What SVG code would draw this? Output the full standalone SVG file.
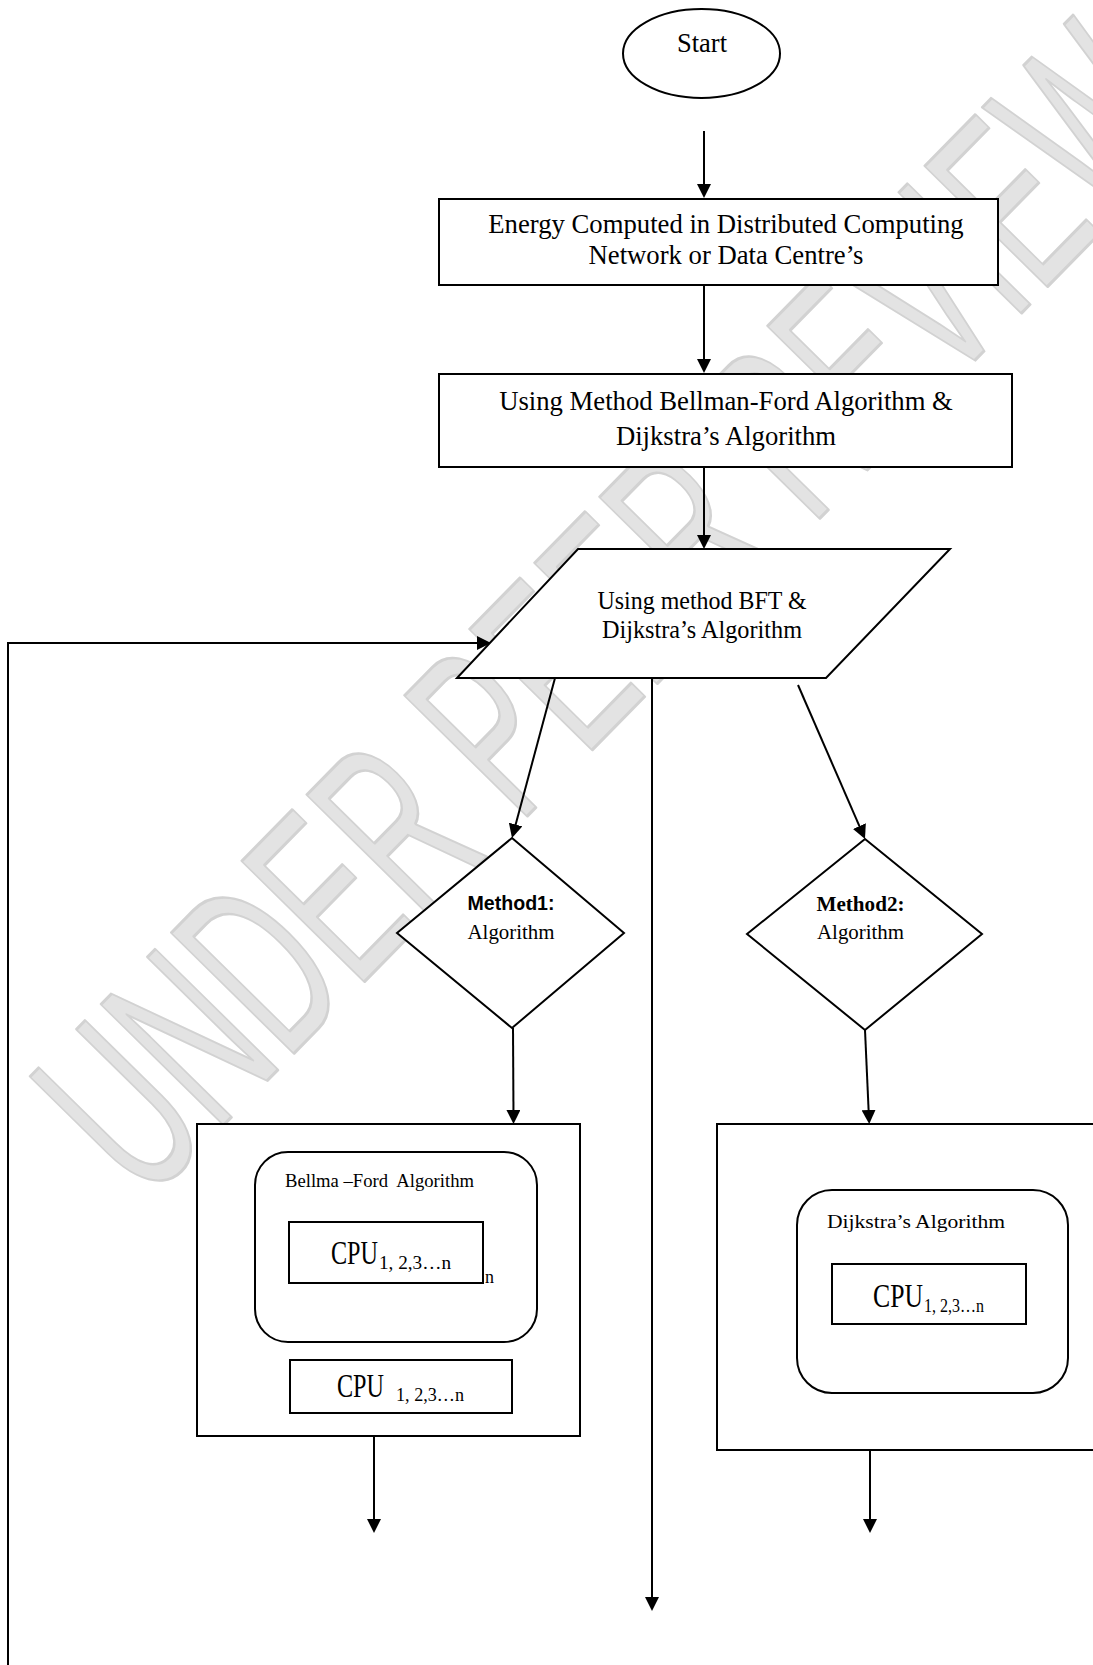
<svg xmlns="http://www.w3.org/2000/svg" width="1093" height="1665" viewBox="0 0 1093 1665">
<style>
.s{fill:#fff;stroke:#000;stroke-width:2}
.t{font-family:"Liberation Serif","Times New Roman",serif;fill:#000}
.c{fill:none;stroke:#000;stroke-width:2}
.wm{font-family:"Liberation Sans",Arial,sans-serif;fill:#e3e3e3;stroke:#d2d2d2;stroke-width:3;stroke-linejoin:round}
</style>
<defs>
<marker id="ah" viewBox="0 0 14 14" refX="9" refY="7" markerWidth="14" markerHeight="14" markerUnits="userSpaceOnUse" orient="auto">
<path d="M0,0 L14,7 L0,14 z" fill="#000"/>
</marker>
</defs>
<rect width="1093" height="1665" fill="#fff"/>
<g id="watermark">
<text class="wm" transform="translate(145,1205) rotate(-45.5)" font-size="250" textLength="1500" lengthAdjust="spacingAndGlyphs">UNDER PEER REVIEW</text>
</g>
<g id="connectors">
<line class="c" x1="704" y1="131" x2="704" y2="193" marker-end="url(#ah)"/>
<line class="c" x1="704" y1="285" x2="704" y2="368" marker-end="url(#ah)"/>
<line class="c" x1="704" y1="467" x2="704" y2="544" marker-end="url(#ah)"/>
<polyline class="c" points="8,1665 8,643 486,643" marker-end="url(#ah)"/>
<line class="c" x1="555" y1="678" x2="513.3" y2="833.2" marker-end="url(#ah)"/>
<line class="c" x1="652" y1="678" x2="652" y2="1606" marker-end="url(#ah)"/>
<line class="c" x1="798" y1="685" x2="863" y2="834.4" marker-end="url(#ah)"/>
<line class="c" x1="513" y1="1028" x2="513.5" y2="1119" marker-end="url(#ah)"/>
<line class="c" x1="865" y1="1030" x2="869" y2="1119" marker-end="url(#ah)"/>
<line class="c" x1="374" y1="1436" x2="374" y2="1528" marker-end="url(#ah)"/>
<line class="c" x1="870" y1="1450" x2="870" y2="1528" marker-end="url(#ah)"/>
</g>
<g id="start">
<ellipse class="s" cx="701.5" cy="53.5" rx="78.5" ry="44.5"/>
<text class="t" x="702" y="52" font-size="26.5" text-anchor="middle">Start</text>
</g>
<g id="energy">
<rect class="s" x="439" y="199" width="559" height="86"/>
<text class="t" x="726" y="233" font-size="26.7" text-anchor="middle">Energy Computed in Distributed Computing</text>
<text class="t" x="726" y="264" font-size="26.7" text-anchor="middle">Network or Data Centre’s</text>
</g>
<g id="method">
<rect class="s" x="439" y="374" width="573" height="93"/>
<text class="t" x="726" y="410" font-size="26.7" text-anchor="middle">Using Method Bellman-Ford Algorithm &amp;</text>
<text class="t" x="726" y="445" font-size="26.7" text-anchor="middle">Dijkstra’s Algorithm</text>
</g>
<g id="bft">
<polygon class="s" points="578,549 950,549 826,678 457,678"/>
<text class="t" x="702" y="609" font-size="25" text-anchor="middle" textLength="209" lengthAdjust="spacingAndGlyphs">Using method BFT &amp;</text>
<text class="t" x="702" y="638" font-size="25" text-anchor="middle" textLength="200" lengthAdjust="spacingAndGlyphs">Dijkstra’s Algorithm</text>
</g>
<g id="method1">
<polygon class="s" points="512,838 624,933 512,1028 397,933"/>
<text x="511" y="910" font-family="Liberation Sans,Arial,sans-serif" font-weight="bold" font-size="19.5" text-anchor="middle" textLength="87" lengthAdjust="spacingAndGlyphs">Method1:</text>
<text class="t" x="511" y="939" font-size="20" text-anchor="middle" textLength="87" lengthAdjust="spacingAndGlyphs">Algorithm</text>
</g>
<g id="method2">
<polygon class="s" points="865,839 982,934 865,1030 747,934"/>
<text class="t" x="860.5" y="911" font-weight="bold" font-size="21" text-anchor="middle" textLength="88" lengthAdjust="spacingAndGlyphs">Method2:</text>
<text class="t" x="860.5" y="939" font-size="20" text-anchor="middle" textLength="87" lengthAdjust="spacingAndGlyphs">Algorithm</text>
</g>
<g id="bellman">
<rect class="s" x="197" y="1124" width="383" height="312"/>
<rect class="s" x="255" y="1152" width="282" height="190" rx="33" ry="33"/>
<text class="t" x="285" y="1187" font-size="18" textLength="189" lengthAdjust="spacingAndGlyphs" xml:space="preserve">Bellma –Ford  Algorithm</text>
<rect class="s" x="289" y="1222" width="194" height="61" stroke-width="1.6"/>
<text class="t" x="331" y="1264" font-size="33" textLength="47" lengthAdjust="spacingAndGlyphs">CPU</text>
<text class="t" x="379" y="1269" font-size="19" textLength="72" lengthAdjust="spacingAndGlyphs">1, 2,3…n</text>
<text class="t" x="485" y="1283" font-size="18">n</text>
<rect class="s" x="290" y="1360" width="222" height="53" stroke-width="1.6"/>
<text class="t" x="337" y="1397" font-size="33" textLength="47" lengthAdjust="spacingAndGlyphs">CPU</text>
<text class="t" x="396" y="1401" font-size="19" textLength="68" lengthAdjust="spacingAndGlyphs">1, 2,3…n</text>
</g>
<g id="dijkstra">
<rect class="s" x="717" y="1124" width="390" height="326"/>
<rect class="s" x="797" y="1190" width="271" height="203" rx="35" ry="35"/>
<text class="t" x="827" y="1228" font-size="19" textLength="178" lengthAdjust="spacingAndGlyphs">Dijkstra’s Algorithm</text>
<rect class="s" x="832" y="1264" width="194" height="60" stroke-width="1.6"/>
<text class="t" x="873" y="1307" font-size="33" textLength="50" lengthAdjust="spacingAndGlyphs">CPU</text>
<text class="t" x="924" y="1312" font-size="18" textLength="60" lengthAdjust="spacingAndGlyphs">1, 2,3…n</text>
</g>
</svg>
